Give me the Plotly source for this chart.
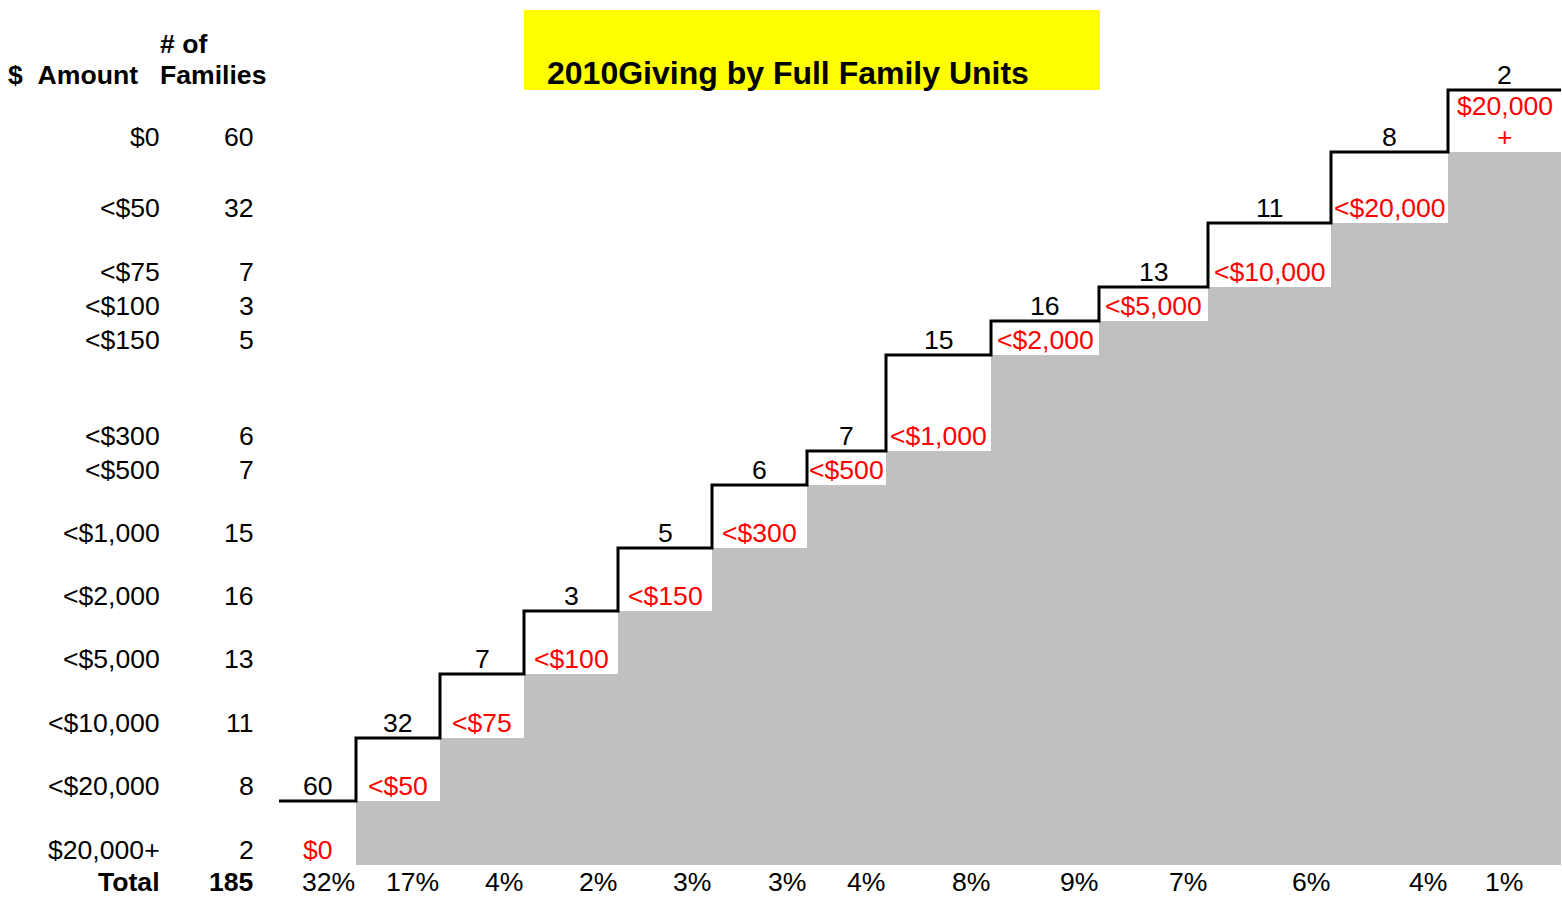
import plotly.graph_objects as go

# ---------------- data ----------------
amount_labels = ["$0", "<$50", "<$75", "<$100", "<$150", "<$300", "<$500",
                 "<$1,000", "<$2,000", "<$5,000", "<$10,000", "<$20,000", "$20,000+"]
step_labels = ["$0", "<$50", "<$75", "<$100", "<$150", "<$300", "<$500",
               "<$1,000", "<$2,000", "<$5,000", "<$10,000", "<$20,000", "$20,000|+"]
families = [60, 32, 7, 3, 5, 6, 7, 15, 16, 13, 11, 8, 2]
title_text = "2010Giving by Full Family Units"

total = sum(families)
percents = [f"{round(100 * f / total)}%" for f in families]

# ---------------- layout geometry (spreadsheet grid, pixels) ----------------
W, H = 1562, 897
row_bounds = [90, 152, 223, 287, 321, 355, 451, 485, 548, 611, 674, 738, 801, 865, 897]
col_edges = [279, 356, 440, 524, 618, 712, 807, 886, 991, 1099, 1208, 1331, 1448, 1561]
pct_right = col_edges[1:-1] + [1524]
amount_right_x = 160
count_right_x = 254
grid_bottom = row_bounds[13]
text_off = 15
line_gap = 31

FONT = "Liberation Sans, Arial, sans-serif"
BLACK = "#000000"
RED = "#FF0000"
GREY = "#C0C0C0"
FS = 26.6

n = len(families)
step_top = [row_bounds[12 - i] for i in range(n)]

fig = go.Figure()

# grey staircase body (bars from grid bottom up to previous step level)
bx, bw, bbase, by = [], [], [], []
for i in range(1, n):
    x0, x1 = col_edges[i], col_edges[i + 1]
    bx.append((x0 + x1) / 2)
    bw.append(x1 - x0)
    bbase.append(grid_bottom)
    by.append(step_top[i - 1] - grid_bottom)
fig.add_trace(go.Bar(x=bx, y=by, base=bbase, width=bw,
                     marker=dict(color=GREY, line=dict(width=0)),
                     hoverinfo="skip", showlegend=False))

# black step outline
lx = col_edges[:]
ly = step_top + [step_top[-1]]
fig.add_trace(go.Scatter(x=lx, y=ly, mode="lines", line=dict(color=BLACK, width=3, shape="hv"),
                         hoverinfo="skip", showlegend=False))

ann = []


def add_text(x, y, text, xanchor="center", color=BLACK, size=FS, bold=False):
    if bold:
        text = f"<b>{text}</b>"
    ann.append(dict(x=x, y=y, xref="x", yref="y", text=text, showarrow=False,
                    xanchor=xanchor, yanchor="middle", borderpad=0, borderwidth=0,
                    font=dict(family=FONT, size=size, color=color)))


# left table header
add_text(160, row_bounds[0] - text_off - line_gap, "# of", xanchor="left", bold=True)
add_text(160, row_bounds[0] - text_off, "Families", xanchor="left", bold=True)
add_text(8, row_bounds[0] - text_off, "$\u00a0\u00a0Amount", xanchor="left", bold=True)
for k in range(n):
    yk = row_bounds[k + 1] - text_off
    add_text(amount_right_x, yk, amount_labels[k], xanchor="right")
    add_text(count_right_x, yk, str(families[k]), xanchor="right")
add_text(amount_right_x, row_bounds[14] - text_off, "Total", xanchor="right", bold=True)
add_text(count_right_x, row_bounds[14] - text_off, str(total), xanchor="right", bold=True)

# step labels
for i in range(n):
    cx = (col_edges[i] + col_edges[i + 1]) / 2
    add_text(cx, step_top[i] - text_off, str(families[i]))
    lines = step_labels[i].split("|")
    base_y = row_bounds[13 - i] - text_off
    for j, line in enumerate(reversed(lines)):
        add_text(cx, base_y - j * line_gap, line, color=RED)
    add_text(pct_right[i] - 1, row_bounds[14] - text_off, percents[i], xanchor="right")

# title
add_text(547, 73, title_text, xanchor="left", size=32, bold=True)

fig.update_layout(
    width=W, height=H,
    margin=dict(l=0, r=0, t=0, b=0),
    paper_bgcolor="white", plot_bgcolor="white",
    xaxis=dict(range=[0, W], visible=False, fixedrange=True),
    yaxis=dict(range=[H, 0], visible=False, fixedrange=True),
    bargap=0,
    annotations=ann,
    shapes=[dict(type="rect", xref="x", yref="y", x0=524, x1=1100, y0=10, y1=90,
                 fillcolor="#FFFF00", line=dict(width=0), layer="below")],
    showlegend=False,
)

fig.write_html("out.html", config={"displayModeBar": False},
               post_script="document.body.style.margin='0';document.body.style.overflow='hidden';")
